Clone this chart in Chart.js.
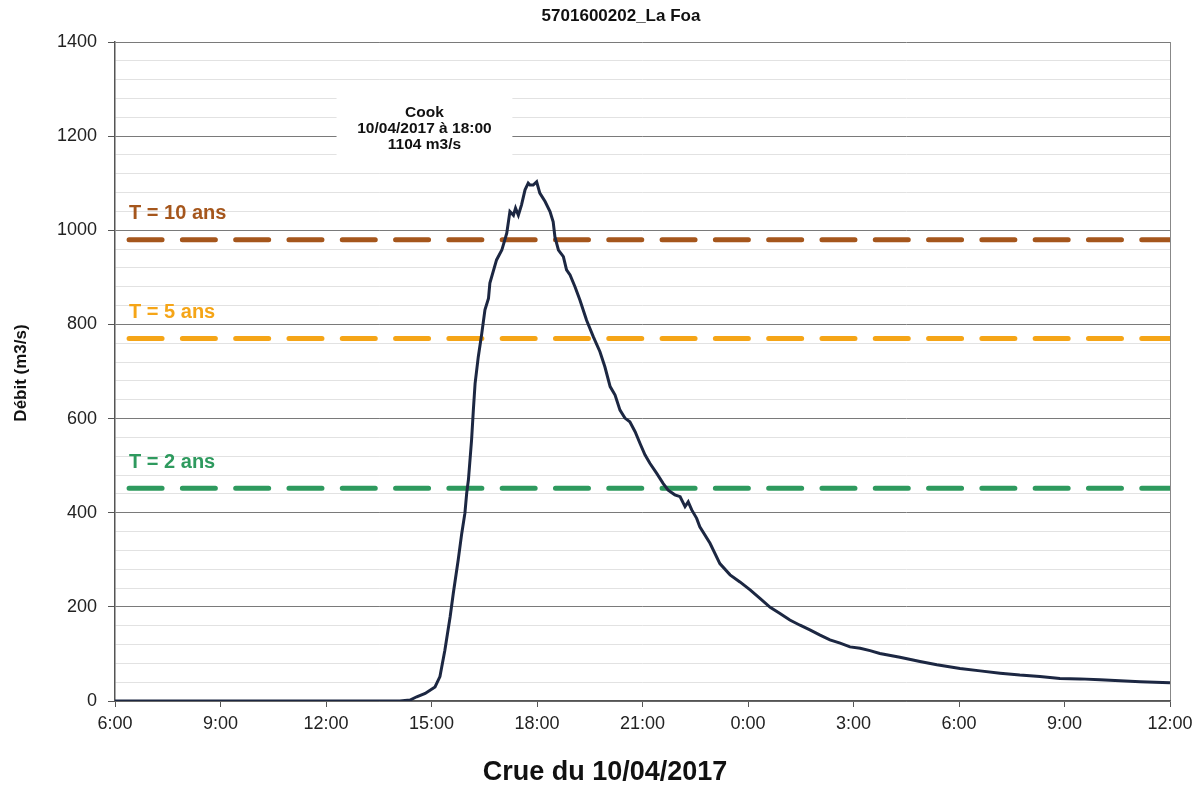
<!DOCTYPE html>
<html>
<head>
<meta charset="utf-8">
<script src="https://cdn.jsdelivr.net/npm/chart.js@4"></script>
<style>
  body { margin: 0; background: #fff; }
  #wrap { width: 1204px; height: 787px; position: relative; }
</style>
</head>
<body>
<div id="wrap"><canvas id="crueChart"></canvas></div>
<script>
// heures depuis le 10/04/2017 6:00
const heures = [0, 8.1, 8.39, 8.58, 8.82, 9.10, 9.24, 9.38, 9.53, 9.62, 9.76, 9.86, 9.95, 10.00, 10.05, 10.14, 10.19, 10.24, 10.33, 10.43,
  10.52, 10.62, 10.66, 10.85, 11.00, 11.14, 11.23, 11.33, 11.39, 11.47, 11.56, 11.66, 11.75, 11.80, 11.89, 11.99, 12.08, 12.23, 12.37, 12.46,
  12.51, 12.61, 12.75, 12.84, 12.94, 13.08, 13.22, 13.41, 13.60, 13.79, 13.93, 14.08, 14.22, 14.36, 14.50, 14.64, 14.79, 14.93, 15.07, 15.21,
  15.40, 15.59, 15.73, 15.92, 16.07, 16.21, 16.30, 16.40, 16.54, 16.63, 16.92, 17.20, 17.49, 17.77, 18.06, 18.34, 18.63, 18.91, 19.19, 19.48,
  19.76, 20.05, 20.33, 20.62, 20.90, 21.19, 21.47, 21.75, 22.32, 22.89, 23.37, 24.03, 24.60, 25.17, 25.73, 26.30, 26.87, 27.44, 28.01, 28.58,
  29.15, 30];
// débit en m3/s
const debit = [0, 0, 2, 9, 16, 30, 52, 108, 179, 229, 300, 356, 399, 441, 470, 555, 618, 675, 731, 781,
  831, 855, 888, 937, 958, 994, 1040, 1032, 1047, 1032, 1054, 1086, 1100, 1096, 1096, 1103, 1079, 1061, 1040, 1018,
  986, 958, 944, 916, 905, 880, 852, 809, 774, 742, 710, 668, 650, 618, 601, 593, 572, 547, 523, 505,
  484, 462, 448, 438, 434, 413, 423, 406, 388, 370, 335, 292, 268, 253, 236, 218, 199, 186, 172, 161,
  151, 140, 130, 123, 115, 112, 107, 101, 93, 84, 77, 69, 64, 59, 55, 52, 48, 47, 45, 43,
  41, 39];

const xTickLabels = ['6:00', '9:00', '12:00', '15:00', '18:00', '21:00', '0:00', '3:00', '6:00', '9:00', '12:00'];

// périodes de retour
const seuilLabels = ['T = 10 ans', 'T = 5 ans', 'T = 2 ans'];
const seuilValeurs = [980, 770, 452];
const seuilCouleurs = ['#A5561C', '#F5A517', '#2E9A5E'];
const seuilDebut = 0.4;

const picLignes = ['Cook', '10/04/2017 à 18:00', '1104 m3/s'];

const FONT = "'Liberation Sans', Arial, sans-serif";

const textPlugin = {
    id: 'crueTexts',
    beforeDatasetsDraw(chart) {
        const { ctx, scales: { x, y } } = chart;
        ctx.save();
        // white box behind the peak label
        const bx0 = x.getPixelForValue(6.3), bx1 = x.getPixelForValue(11.3);
        const by0 = y.getPixelForValue(1285), by1 = y.getPixelForValue(1145);
        ctx.fillStyle = '#fff';
        ctx.fillRect(bx0, by0, bx1 - bx0, by1 - by0);
        ctx.fillStyle = '#111';
        ctx.font = 'bold 15.5px ' + FONT;
        ctx.textAlign = 'center';
        ctx.textBaseline = 'middle';
        const cx = (bx0 + bx1) / 2;
        picLignes.forEach((t, i) => ctx.fillText(t, cx, by0 + 17 + i * 16));

        // threshold labels
        ctx.font = 'bold 20px ' + FONT;
        ctx.textAlign = 'left';
        seuilLabels.forEach((t, i) => {
            ctx.fillStyle = seuilCouleurs[i];
            ctx.fillText(t, x.getPixelForValue(0.4), y.getPixelForValue(seuilValeurs[i]) - 26);
        });
        ctx.restore();
    },
    afterDraw(chart) {
        const { ctx } = chart;
        ctx.save();
        ctx.fillStyle = '#111';
        ctx.textAlign = 'center';
        ctx.textBaseline = 'middle';
        ctx.font = 'bold 17px ' + FONT;
        ctx.fillText('5701600202_La Foa', 621, 16);
        ctx.font = 'bold 27px ' + FONT;
        ctx.fillText('Crue du 10/04/2017', 605, 773);
        ctx.translate(21, 373);
        ctx.rotate(-Math.PI / 2);
        ctx.font = 'bold 17px ' + FONT;
        ctx.fillText('Débit (m3/s)', 0, 0);
        ctx.restore();
    }
};

function createChart() {
    const ctx = document.getElementById('crueChart').getContext('2d');

    const datasets = [{
        label: 'Débit',
        data: heures.map((h, i) => ({ x: h, y: debit[i] })),
        borderColor: '#1c2742',
        borderWidth: 3,
        pointRadius: 0,
        tension: 0,
        order: 0
    }];

    seuilValeurs.forEach((v, i) => {
        datasets.push({
            label: seuilLabels[i],
            data: [{ x: seuilDebut, y: v }, { x: 30, y: v }],
            borderColor: seuilCouleurs[i],
            borderWidth: 5,
            borderDash: [33, 20.3],
            borderCapStyle: 'round',
            pointRadius: 0,
            order: 1
        });
    });

    return new Chart(ctx, {
        type: 'line',
        data: { datasets: datasets },
        plugins: [textPlugin],
        options: {
            responsive: true,
            maintainAspectRatio: false,
            animation: false,
            layout: { padding: { left: 0, top: 42, right: 34, bottom: 50 } },
            plugins: {
                legend: { display: false },
                tooltip: { enabled: false }
            },
            scales: {
                x: {
                    type: 'linear',
                    min: 0,
                    max: 30,
                    afterFit: s => { s.height = 36; },
                    border: { color: '#555', width: 1.5 },
                    grid: {
                        color: c => (c.tick && c.tick.value === 30) ? '#888' : 'transparent',
                        tickColor: '#555',
                        tickLength: 6
                    },
                    ticks: {
                        stepSize: 3,
                        autoSkip: false,
                        maxRotation: 0,
                        padding: 6,
                        color: '#222',
                        font: { family: FONT, size: 18 },
                        callback: v => xTickLabels[Math.round(v / 3)]
                    }
                },
                y: {
                    min: 0,
                    max: 1400,
                    afterFit: s => { s.width = 115; },
                    border: { color: '#555', width: 1.5 },
                    grid: {
                        color: c => (c.tick && c.tick.value % 200 === 0) ? '#7a7a7a' : '#e2e2e2',
                        tickColor: c => (c.tick && c.tick.value % 200 === 0) ? '#555' : 'transparent',
                        tickLength: 7
                    },
                    ticks: {
                        stepSize: 40,
                        autoSkip: false,
                        padding: 11,
                        color: '#222',
                        font: { family: FONT, size: 18 },
                        callback: v => (v % 200 === 0 ? v : '')
                    }
                }
            }
        }
    });
}

document.addEventListener('DOMContentLoaded', createChart);
</script>
</body>
</html>
